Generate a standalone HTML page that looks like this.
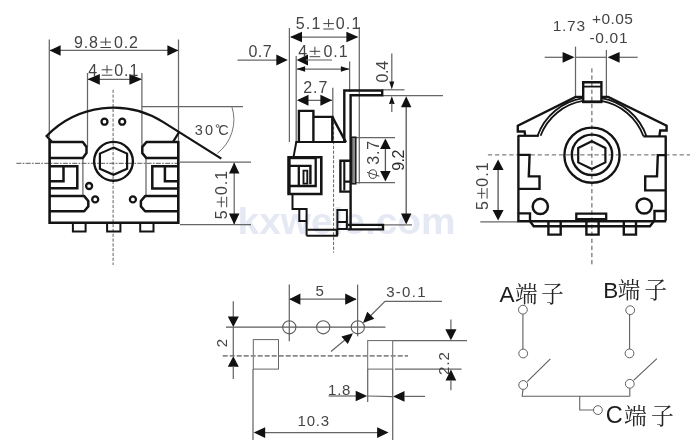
<!DOCTYPE html>
<html><head><meta charset="utf-8"><title>Dimension drawing</title>
<style>
html,body{margin:0;padding:0;background:#fff;}
body{width:700px;height:444px;overflow:hidden;}
svg{display:block;font-family:"Liberation Sans",sans-serif;}
</style></head><body>
<svg width="700" height="444" viewBox="0 0 700 444">
<rect width="700" height="444" fill="#ffffff"/>
<g opacity="0.999">
<text x="237.6" y="234.3" font-size="37" font-weight="bold" fill="#e5e9f3" textLength="218" lengthAdjust="spacingAndGlyphs">kxwele.com</text>
<line x1="49.3" y1="39.5" x2="49.3" y2="137" stroke="#666666" stroke-width="1.25" />
<line x1="178.5" y1="39.5" x2="178.5" y2="141" stroke="#666666" stroke-width="1.25" />
<line x1="87.5" y1="73" x2="87.5" y2="147" stroke="#666666" stroke-width="1.25" />
<line x1="141.9" y1="73" x2="141.9" y2="147" stroke="#666666" stroke-width="1.25" />
<line x1="82.9" y1="159" x2="82.9" y2="195" stroke="#666666" stroke-width="1.25" />
<line x1="146.0" y1="159" x2="146.0" y2="195" stroke="#666666" stroke-width="1.25" />
<line x1="141.8" y1="106.5" x2="243" y2="106.5" stroke="#666666" stroke-width="1.25" />
<line x1="180" y1="162.2" x2="251" y2="162.2" stroke="#666666" stroke-width="1.25" />
<line x1="180" y1="224.6" x2="251" y2="224.6" stroke="#666666" stroke-width="1.25" />
<line x1="234.2" y1="163" x2="234.2" y2="224" stroke="#666666" stroke-width="1.25" />
<polygon points="234.20,162.40 239.45,173.40 228.95,173.40" fill="#111"/>
<polygon points="234.20,224.40 228.95,213.40 239.45,213.40" fill="#111"/>
<line x1="50" y1="50.4" x2="178" y2="50.4" stroke="#666666" stroke-width="1.25" />
<polygon points="49.60,50.40 60.60,45.15 60.60,55.65" fill="#111"/>
<polygon points="178.40,50.40 167.40,55.65 167.40,45.15" fill="#111"/>
<line x1="88" y1="79.4" x2="141" y2="79.4" stroke="#666666" stroke-width="1.25" />
<polygon points="87.60,79.30 99.80,73.90 99.80,84.70" fill="#111"/>
<polygon points="142.00,79.30 129.40,84.70 129.40,73.90" fill="#111"/>
<line x1="113.1" y1="89.7" x2="113.1" y2="265" stroke="#505050" stroke-width="0.9" stroke-dasharray="3.2 1.6"/>
<line x1="16.4" y1="163.3" x2="180" y2="163.3" stroke="#484848" stroke-width="0.9" stroke-dasharray="5 1.3 1.7 1.3"/>
<path d="M231.8,106.5 A42.7 42.7 0 0 1 217.3,153.4" fill="none" stroke="#666666" stroke-width="0.9" />
<path d="M51.6,141.6 L46.6,136.0 A93 93 0 0 1 162.9,121.9 L221.3,158.6" fill="none" stroke="#141414" stroke-width="2.3" stroke-linejoin="miter" />
<path d="M178.8,132.6 L173.2,141.6" fill="none" stroke="#141414" stroke-width="2.2" stroke-linejoin="miter" />
<path d="M49.6,139.5 V222.8 H178.3 V141" fill="none" stroke="#141414" stroke-width="2.6" stroke-linejoin="miter" />
<path d="M49.6,142.1 H82.8 L86.5,146.9 V153.1 L82.8,158.1 H49.6" fill="none" stroke="#141414" stroke-width="2.5" stroke-linejoin="round" />
<path d="M178.3,142.1 H146.4 L142.3,146.9 V153.1 L146.4,158.1 H178.3" fill="none" stroke="#141414" stroke-width="2.5" stroke-linejoin="round" />
<path d="M49.6,196.1 H84.2 L88.3,201 V206.4 L84.2,211.2 H49.6" fill="none" stroke="#141414" stroke-width="2.5" stroke-linejoin="round" />
<path d="M178.3,196.1 H145.1 L140.9,201 V206.4 L145.1,211.2 H178.3" fill="none" stroke="#141414" stroke-width="2.5" stroke-linejoin="round" />
<path d="M49.6,166.2 H77.3 V188.2 H49.6" fill="none" stroke="#141414" stroke-width="2.5" stroke-linejoin="miter" />
<path d="M63.5,166.2 V181.3 H49.6" fill="none" stroke="#141414" stroke-width="2.5" stroke-linejoin="miter" />
<path d="M178.3,166.2 H152.3 V188.4 H178.3" fill="none" stroke="#141414" stroke-width="2.5" stroke-linejoin="miter" />
<path d="M164.9,166.2 V181.3 H178.3" fill="none" stroke="#141414" stroke-width="2.5" stroke-linejoin="miter" />
<circle cx="113.5" cy="161.3" r="19.4" fill="none" stroke="#141414" stroke-width="2.4"/>
<path d="M113.50,147.60 L127.10,153.60 L127.10,168.80 L113.50,174.80 L99.90,168.80 L99.90,153.60 Z" fill="none" stroke="#141414" stroke-width="2.2" stroke-linejoin="miter" />
<circle cx="104.5" cy="121.7" r="3.0" fill="none" stroke="#141414" stroke-width="2.3"/>
<circle cx="122.2" cy="121.7" r="3.0" fill="none" stroke="#141414" stroke-width="2.3"/>
<circle cx="89.1" cy="186.0" r="3.0" fill="none" stroke="#141414" stroke-width="2.3"/>
<circle cx="95.2" cy="199.4" r="3.0" fill="none" stroke="#141414" stroke-width="2.3"/>
<circle cx="132.9" cy="199.4" r="3.0" fill="none" stroke="#141414" stroke-width="2.3"/>
<path d="M72.9,222.8 V231.6 H85.6 V222.8" fill="none" stroke="#141414" stroke-width="2.0" stroke-linejoin="miter" />
<path d="M107.1,222.8 V231.6 H120.4 V222.8" fill="none" stroke="#141414" stroke-width="2.0" stroke-linejoin="miter" />
<path d="M140.2,222.8 V231.6 H153.5 V222.8" fill="none" stroke="#141414" stroke-width="2.0" stroke-linejoin="miter" />
<g transform="translate(74.0 47.9)"><text x="0" y="0" font-size="16" letter-spacing="0.8" fill="#444444">9.8</text><path d="M26.40,-5.8H37.00M31.70,-10.4V-2.2M26.40,-0.4H37.00" stroke="#444444" stroke-width="1" fill="none"/><text x="40.00" y="0" font-size="16" letter-spacing="0.8" fill="#444444">0.2</text></g>
<g transform="translate(88.3 75.6)"><text x="0" y="0" font-size="16" letter-spacing="1.0" fill="#444444">4</text><path d="M13.40,-5.8H24.00M18.70,-10.4V-2.2M13.40,-0.4H24.00" stroke="#444444" stroke-width="1" fill="none"/><text x="25.90" y="0" font-size="16" letter-spacing="1.0" fill="#444444">0.1</text></g>
<g transform="translate(227.1 219.3) rotate(-90)"><text x="0" y="0" font-size="16" letter-spacing="1.0" fill="#444444">5</text><path d="M12.00,-5.8H22.60M17.30,-10.4V-2.2M12.00,-0.4H22.60" stroke="#444444" stroke-width="1" fill="none"/><text x="24.20" y="0" font-size="16" letter-spacing="1.0" fill="#444444">0.1</text></g>
<text x="194.7" y="135.2" font-size="14.5" letter-spacing="0" fill="#444444" text-anchor="start" font-weight="normal" >3</text>
<text x="204.9" y="135.2" font-size="14.5" letter-spacing="0" fill="#444444" text-anchor="start" font-weight="normal" >0</text>
<circle cx="217.6" cy="126.0" r="1.4" fill="none" stroke="#444444" stroke-width="0.8"/>
<text x="218.2" y="135.2" font-size="14.5" letter-spacing="0" fill="#444444" text-anchor="start" font-weight="normal" >C</text>
<line x1="289.4" y1="28" x2="289.4" y2="142" stroke="#666666" stroke-width="1.25" />
<line x1="359.3" y1="27" x2="359.3" y2="183.5" stroke="#666666" stroke-width="1.25" />
<line x1="296.2" y1="56" x2="296.2" y2="142" stroke="#666666" stroke-width="1.25" />
<line x1="349.6" y1="61.5" x2="349.6" y2="92" stroke="#666666" stroke-width="1.25" />
<line x1="332.8" y1="87.7" x2="332.8" y2="117" stroke="#666666" stroke-width="1.25" />
<line x1="291" y1="37" x2="357" y2="37" stroke="#666666" stroke-width="1.25" />
<polygon points="290.00,37.00 302.00,31.75 302.00,42.25" fill="#111"/>
<polygon points="358.40,37.00 346.40,42.25 346.40,31.75" fill="#111"/>
<line x1="237.5" y1="60.0" x2="278" y2="60.0" stroke="#666666" stroke-width="1.25" />
<polygon points="287.80,60.00 276.30,65.50 276.30,54.50" fill="#111"/>
<polygon points="296.60,60.00 308.00,54.60 308.00,65.40" fill="#111"/>
<line x1="306" y1="60.0" x2="332" y2="60.0" stroke="#7a7a7a" stroke-width="1.2" />
<line x1="297" y1="69" x2="349" y2="69" stroke="#666666" stroke-width="1.25" />
<polygon points="296.60,69.00 305.10,66.20 305.10,71.80" fill="#111"/>
<polygon points="349.40,69.00 340.90,71.80 340.90,66.20" fill="#111"/>
<line x1="298" y1="100.3" x2="332" y2="100.3" stroke="#666666" stroke-width="1.25" />
<polygon points="296.90,100.30 308.50,94.80 308.50,105.80" fill="#111"/>
<polygon points="332.00,100.30 320.40,105.80 320.40,94.80" fill="#111"/>
<line x1="391.8" y1="53.5" x2="391.8" y2="84" stroke="#666666" stroke-width="1.25" />
<polygon points="391.80,89.60 389.30,81.60 394.30,81.60" fill="#111"/>
<polygon points="391.80,95.90 394.60,104.10 389.00,104.10" fill="#111"/>
<line x1="391.8" y1="103" x2="391.8" y2="112" stroke="#666666" stroke-width="1.25" />
<line x1="382" y1="89.8" x2="404.5" y2="89.8" stroke="#666666" stroke-width="1.25" />
<line x1="382" y1="95.5" x2="443" y2="95.5" stroke="#666666" stroke-width="1.25" />
<line x1="406.2" y1="100" x2="406.2" y2="220" stroke="#555" stroke-width="1.3" />
<polygon points="406.20,96.20 411.40,107.20 401.00,107.20" fill="#111"/>
<polygon points="406.20,224.60 401.00,213.60 411.40,213.60" fill="#111"/>
<line x1="383" y1="224.9" x2="412" y2="224.9" stroke="#666666" stroke-width="1.25" />
<line x1="356" y1="137.5" x2="395" y2="137.5" stroke="#666666" stroke-width="1.25" />
<line x1="356" y1="182.6" x2="395" y2="182.6" stroke="#666666" stroke-width="1.25" />
<line x1="385.4" y1="145" x2="385.4" y2="175" stroke="#555" stroke-width="1.3" />
<polygon points="385.40,138.60 390.70,149.10 380.10,149.10" fill="#111"/>
<polygon points="385.40,181.60 380.10,171.10 390.70,171.10" fill="#111"/>
<line x1="333.6" y1="117" x2="333.6" y2="252.6" stroke="#505050" stroke-width="0.9" stroke-dasharray="3.2 1.6"/>
<path d="M344.3,142.6 V90.5 H382.2 V95.3 H350.6 V229.5" fill="none" stroke="#141414" stroke-width="2.4" stroke-linejoin="miter" />
<path d="M347.8,224.9 H383 V229.4 H347.8" fill="none" stroke="#141414" stroke-width="2.4" stroke-linejoin="miter" />
<rect x="351.6" y="137.2" width="4.2" height="46.6" fill="#8a8a8a" stroke="#1a1a1a" stroke-width="1.5"/>
<path d="M350.5,160.8 H340.4 V191.6 H350.5" fill="none" stroke="#141414" stroke-width="2.4" stroke-linejoin="miter" />
<path d="M344.3,162 V190.5 M344.3,181.6 H350.5" fill="none" stroke="#141414" stroke-width="2.1" stroke-linejoin="miter" />
<path d="M298.9,142 V110.9 H313.4 V142 M313.4,116.9 H332.3 V142" fill="none" stroke="#141414" stroke-width="2.4" stroke-linejoin="miter" />
<path d="M332.3,116.9 L346,142.4" fill="none" stroke="#141414" stroke-width="2.4" stroke-linejoin="miter" />
<path d="M295.4,142 H346" fill="none" stroke="#141414" stroke-width="2.2" stroke-linejoin="miter" />
<path d="M296.3,142 L293.6,156.6" fill="none" stroke="#141414" stroke-width="2.0" stroke-linejoin="miter" />
<path d="M288.6,157.3 H321.3 V194 H288.6 Z" fill="none" stroke="#141414" stroke-width="2.6" stroke-linejoin="miter" />
<path d="M288.2,157.6 H316" fill="none" stroke="#141414" stroke-width="3.2" stroke-linejoin="miter" />
<path d="M289.2,157 V194" fill="none" stroke="#141414" stroke-width="2.9" stroke-linejoin="miter" />
<path d="M315.7,158 V186 H288.6" fill="none" stroke="#141414" stroke-width="2.3" stroke-linejoin="miter" />
<path d="M289,165.9 H310.4 V184.2" fill="none" stroke="#141414" stroke-width="2.4" stroke-linejoin="miter" />
<path d="M298.8,165.9 V186" fill="none" stroke="#141414" stroke-width="2.3" stroke-linejoin="miter" />
<path d="M303.5,170.6 H307.3 V183.6 H303.5 Z" fill="none" stroke="#141414" stroke-width="1.9" stroke-linejoin="miter" />
<path d="M292.5,194.3 V209.1 H306.6 V235.7" fill="none" stroke="#141414" stroke-width="2.0" stroke-linejoin="miter" />
<path d="M299.3,209.1 V221.1 H306.6" fill="none" stroke="#141414" stroke-width="2.0" stroke-linejoin="miter" />
<path d="M307.4,229.7 H336.8 V235.7 H306.6" fill="none" stroke="#141414" stroke-width="2.0" stroke-linejoin="miter" />
<path d="M337.4,235.7 V210 H346.9 V229 H337.4 M337.4,222 H346.9" fill="none" stroke="#141414" stroke-width="2.0" stroke-linejoin="miter" />
<g transform="translate(295.7 29.4)"><text x="0" y="0" font-size="16" letter-spacing="1.2" fill="#444444">5.1</text><path d="M27.60,-5.8H38.20M32.90,-10.4V-2.2M27.60,-0.4H38.20" stroke="#444444" stroke-width="1" fill="none"/><text x="40.00" y="0" font-size="16" letter-spacing="1.2" fill="#444444">0.1</text></g>
<g transform="translate(298.2 57.1)"><text x="0" y="0" font-size="16" letter-spacing="1.0" fill="#444444">4</text><path d="M11.40,-5.8H22.00M16.70,-10.4V-2.2M11.40,-0.4H22.00" stroke="#444444" stroke-width="1" fill="none"/><text x="25.20" y="0" font-size="16" letter-spacing="1.0" fill="#444444">0.1</text></g>
<text x="248.4" y="57.1" font-size="16" letter-spacing="0.5" fill="#444444" text-anchor="start" font-weight="normal" >0.7</text>
<text x="303.2" y="92.5" font-size="16" letter-spacing="1.0" fill="#444444" text-anchor="start" font-weight="normal" >2.7</text>
<text x="387.6" y="82.4" font-size="16" letter-spacing="-0.4" fill="#444444" text-anchor="start" font-weight="normal" transform="rotate(-90 387.6 82.4)" >0.4</text>
<text x="404.2" y="170.7" font-size="16" letter-spacing="-0.6" fill="#2a2a2a" text-anchor="start" font-weight="normal" transform="rotate(-90 404.2 170.7)" >9.2</text>
<g transform="translate(379,178.2) rotate(-90)"><ellipse cx="4.1" cy="-6.2" rx="4.3" ry="3.8" fill="none" stroke="#444444" stroke-width="1"/><line x1="2.0" y1="0.4" x2="5.9" y2="-12" stroke="#444444" stroke-width="1"/><text x="13.4" y="0" font-size="16" letter-spacing="0.8" fill="#444444">3.7</text></g>
<line x1="575.5" y1="46.6" x2="575.5" y2="97" stroke="#666666" stroke-width="1.25" />
<line x1="606.4" y1="50" x2="606.4" y2="97" stroke="#666666" stroke-width="1.25" />
<line x1="544.7" y1="57.3" x2="563" y2="57.3" stroke="#666666" stroke-width="1.25" />
<line x1="575.5" y1="57.3" x2="606.4" y2="57.3" stroke="#666666" stroke-width="1.25" />
<line x1="619" y1="57.3" x2="637.7" y2="57.3" stroke="#666666" stroke-width="1.25" />
<polygon points="574.60,57.30 562.60,62.65 562.60,51.95" fill="#111"/>
<polygon points="607.60,57.30 619.60,51.95 619.60,62.65" fill="#111"/>
<line x1="591.9" y1="68.3" x2="591.9" y2="265" stroke="#505050" stroke-width="1.0" stroke-dasharray="4.3 2.8"/>
<line x1="487.9" y1="154.9" x2="690" y2="154.9" stroke="#505050" stroke-width="0.9" stroke-dasharray="4.3 2.8"/>
<line x1="480.3" y1="221.8" x2="518" y2="221.8" stroke="#666666" stroke-width="1.25" />
<line x1="498.1" y1="166" x2="498.1" y2="212" stroke="#555" stroke-width="1.3" />
<polygon points="498.10,159.40 503.60,169.90 492.60,169.90" fill="#111"/>
<polygon points="498.10,220.40 492.60,209.90 503.60,209.90" fill="#111"/>
<path d="M583.2,102 V82.2 H601.4 V102" fill="none" stroke="#141414" stroke-width="2.4" stroke-linejoin="miter" />
<path d="M583.2,86.6 H601.4" fill="none" stroke="#141414" stroke-width="1.8" stroke-linejoin="miter" />
<path d="M582,101.8 H602.6" fill="none" stroke="#141414" stroke-width="2.8" stroke-linejoin="miter" />
<path d="M583.2,96.9 H575.6 L517.8,125.7 V131.5 H524.6 L525.2,135.8" fill="none" stroke="#141414" stroke-width="2.4" stroke-linejoin="miter" />
<path d="M601.4,96.9 H608.2 L666.6,125.7 V130.5 H660.2 L659.4,136.2" fill="none" stroke="#141414" stroke-width="2.4" stroke-linejoin="miter" />
<path d="M540.54,135.80 A55.0 55.0 0 0 1 583.00,100.94" fill="none" stroke="#141414" stroke-width="1.8" stroke-linejoin="miter" />
<path d="M643.46,136.30 A55.0 55.0 0 0 0 601.40,100.94" fill="none" stroke="#141414" stroke-width="1.8" stroke-linejoin="miter" />
<path d="M537.55,135.80 A57.8 57.8 0 0 1 583.00,98.10" fill="none" stroke="#141414" stroke-width="1.8" stroke-linejoin="miter" />
<path d="M646.45,136.30 A57.8 57.8 0 0 0 601.40,98.10" fill="none" stroke="#141414" stroke-width="1.8" stroke-linejoin="miter" />
<path d="M517.6,135.8 H538.8" fill="none" stroke="#141414" stroke-width="2.2" stroke-linejoin="miter" />
<path d="M643.4,136.4 H666.6" fill="none" stroke="#141414" stroke-width="2.2" stroke-linejoin="miter" />
<path d="M518.4,135.8 V221.4" fill="none" stroke="#141414" stroke-width="2.4" stroke-linejoin="miter" />
<path d="M665.7,136.4 V220.6" fill="none" stroke="#141414" stroke-width="2.4" stroke-linejoin="miter" />
<path d="M518.4,154.9 H529.6 L528.8,176.4 H539.5 V188.9 H518.4" fill="none" stroke="#141414" stroke-width="2.4" stroke-linejoin="miter" />
<path d="M665.7,155.1 H657.8 L657,176.4 H645.2 V190.4 H665.7" fill="none" stroke="#141414" stroke-width="2.4" stroke-linejoin="miter" />
<circle cx="592" cy="155.2" r="27.6" fill="none" stroke="#141414" stroke-width="2.4"/>
<circle cx="592" cy="154.8" r="20.2" fill="none" stroke="#141414" stroke-width="2.4"/>
<path d="M591.80,141.30 L605.40,148.00 L605.40,162.40 L591.80,169.10 L578.20,162.40 L578.20,148.00 Z" fill="none" stroke="#141414" stroke-width="2.2" stroke-linejoin="miter" />
<circle cx="540.3" cy="206.4" r="7.6" fill="none" stroke="#141414" stroke-width="2.5"/>
<circle cx="644.2" cy="206.0" r="7.6" fill="none" stroke="#141414" stroke-width="2.5"/>
<path d="M517.8,213.4 H530 V221.2" fill="none" stroke="#141414" stroke-width="2.4" stroke-linejoin="miter" />
<path d="M665.7,211 H654.5 V220.6" fill="none" stroke="#141414" stroke-width="2.4" stroke-linejoin="miter" />
<path d="M517.4,221.2 H666.2" fill="none" stroke="#141414" stroke-width="2.6" stroke-linejoin="miter" />
<path d="M530,221.2 L533.7,226.2 H650 L654.2,220.8" fill="none" stroke="#141414" stroke-width="2.4" stroke-linejoin="miter" />
<path d="M576.3,221 V213.6 H606.2 V221 M576.3,219.2 H606.2" fill="none" stroke="#141414" stroke-width="2.3" stroke-linejoin="miter" />
<path d="M548.4,221.2 V234.6 H560.7 V221.2" fill="none" stroke="#141414" stroke-width="2.4" stroke-linejoin="miter" />
<path d="M586.4,221.2 V234.6 H598.6 V221.2" fill="none" stroke="#141414" stroke-width="2.4" stroke-linejoin="miter" />
<path d="M623.8,221.2 V234.6 H636.0 V221.2" fill="none" stroke="#141414" stroke-width="2.4" stroke-linejoin="miter" />
<g transform="translate(487.5 210.1) rotate(-90)"><text x="0" y="0" font-size="16" letter-spacing="1.0" fill="#444444">5</text><path d="M11.50,-5.8H22.10M16.80,-10.4V-2.2M11.50,-0.4H22.10" stroke="#444444" stroke-width="1" fill="none"/><text x="23.40" y="0" font-size="16" letter-spacing="1.0" fill="#444444">0.1</text></g>
<text x="552.8" y="31.1" font-size="15.5" letter-spacing="0.7" fill="#444444" text-anchor="start" font-weight="normal" >1.73</text>
<text x="592.0" y="23.8" font-size="15.5" letter-spacing="0.4" fill="#444444" text-anchor="start" font-weight="normal" >+0.05</text>
<text x="589.4" y="42.5" font-size="15.5" letter-spacing="0.7" fill="#444444" text-anchor="start" font-weight="normal" >-0.01</text>
<line x1="226" y1="327.2" x2="385.5" y2="327.2" stroke="#5a5a5a" stroke-width="1.3" />
<line x1="289.3" y1="284.6" x2="289.3" y2="341.3" stroke="#666666" stroke-width="1.25" />
<line x1="357.6" y1="284.6" x2="357.6" y2="336.3" stroke="#666666" stroke-width="1.25" />
<line x1="290" y1="299.2" x2="356" y2="299.2" stroke="#666666" stroke-width="1.25" />
<polygon points="289.20,299.20 300.40,293.60 300.40,304.80" fill="#111"/>
<polygon points="356.60,299.20 345.20,304.80 345.20,293.60" fill="#111"/>
<circle cx="289.3" cy="327.3" r="6.6" fill="none" stroke="#5a5a5a" stroke-width="1.1"/>
<circle cx="323.2" cy="327.3" r="6.6" fill="none" stroke="#5a5a5a" stroke-width="1.1"/>
<circle cx="357.8" cy="327.3" r="6.6" fill="none" stroke="#5a5a5a" stroke-width="1.1"/>
<rect x="253.3" y="339.6" width="25.2" height="29.5" fill="none" stroke="#666666" stroke-width="1"/>
<rect x="367.7" y="340.6" width="25" height="28.5" fill="none" stroke="#666666" stroke-width="1"/>
<line x1="253.0" y1="369" x2="253.0" y2="440" stroke="#666666" stroke-width="1.25" />
<line x1="367.7" y1="369" x2="367.7" y2="402" stroke="#666666" stroke-width="1.25" />
<line x1="392.7" y1="369" x2="392.7" y2="440" stroke="#666666" stroke-width="1.25" />
<line x1="222.7" y1="355.8" x2="408" y2="355.8" stroke="#888888" stroke-width="1.7" stroke-dasharray="5 2"/>
<line x1="233.3" y1="301.3" x2="233.3" y2="318" stroke="#666666" stroke-width="1.25" />
<polygon points="233.30,327.00 227.80,316.50 238.80,316.50" fill="#111"/>
<line x1="233.3" y1="327" x2="233.3" y2="356" stroke="#666666" stroke-width="1.25" />
<polygon points="233.30,356.20 238.80,366.70 227.80,366.70" fill="#111"/>
<line x1="233.3" y1="366" x2="233.3" y2="379" stroke="#666666" stroke-width="1.25" />
<path d="M442,301.3 H385 L370,316.2" fill="none" stroke="#666666" stroke-width="1.25" />
<polygon points="363.00,323.00 367.24,311.69 374.31,318.76" fill="#111"/>
<line x1="331" y1="351.6" x2="346" y2="339.0" stroke="#666666" stroke-width="1.25" />
<polygon points="353.00,333.20 347.79,344.10 341.36,336.44" fill="#111"/>
<line x1="393" y1="340.6" x2="467" y2="340.6" stroke="#666666" stroke-width="1.25" />
<line x1="395" y1="369.2" x2="461.5" y2="369.2" stroke="#666666" stroke-width="1.25" />
<line x1="450.9" y1="319.6" x2="450.9" y2="330" stroke="#666666" stroke-width="1.25" />
<polygon points="450.90,340.30 445.30,329.30 456.50,329.30" fill="#111"/>
<polygon points="450.90,369.50 456.25,380.50 445.55,380.50" fill="#111"/>
<line x1="450.9" y1="380" x2="450.9" y2="390.3" stroke="#666666" stroke-width="1.25" />
<line x1="328.6" y1="396" x2="357" y2="396" stroke="#666666" stroke-width="1.25" />
<polygon points="367.20,396.00 355.70,401.35 355.70,390.65" fill="#111"/>
<line x1="367.7" y1="396" x2="392.7" y2="396.6" stroke="#666666" stroke-width="1.25" />
<polygon points="393.00,396.40 404.50,391.05 404.50,401.75" fill="#111"/>
<line x1="404" y1="396.4" x2="425" y2="396.4" stroke="#666666" stroke-width="1.25" />
<line x1="264" y1="432.6" x2="378" y2="432.6" stroke="#666666" stroke-width="1.25" />
<polygon points="253.70,432.60 265.20,427.20 265.20,438.00" fill="#111"/>
<polygon points="388.60,432.60 377.10,438.00 377.10,427.20" fill="#111"/>
<text x="315.6" y="295.6" font-size="15" letter-spacing="0" fill="#444444" text-anchor="start" font-weight="normal" >5</text>
<text x="386.2" y="296.7" font-size="15" letter-spacing="1.3" fill="#444444" text-anchor="start" font-weight="normal" >3-0.1</text>
<text x="227.4" y="347.2" font-size="15" letter-spacing="0" fill="#444444" text-anchor="start" font-weight="normal" transform="rotate(-90 227.4 347.2)" >2</text>
<text x="449.2" y="374.9" font-size="15" letter-spacing="0.95" fill="#444444" text-anchor="start" font-weight="normal" transform="rotate(-90 449.2 374.9)" >2.2</text>
<text x="328.1" y="394.9" font-size="15" letter-spacing="0.7" fill="#444444" text-anchor="start" font-weight="normal" >1.8</text>
<text x="297.5" y="426.4" font-size="15" letter-spacing="0.8" fill="#444444" text-anchor="start" font-weight="normal" >10.3</text>
<circle cx="522.9" cy="309.7" r="4.4" fill="none" stroke="#5e5e5e" stroke-width="1.0"/>
<line x1="522.9" y1="314.2" x2="522.9" y2="349" stroke="#5e5e5e" stroke-width="1.1" />
<circle cx="523.2" cy="353.5" r="4.4" fill="none" stroke="#5e5e5e" stroke-width="1.0"/>
<circle cx="523.2" cy="385.0" r="4.4" fill="none" stroke="#5e5e5e" stroke-width="1.0"/>
<line x1="527.2" y1="381.6" x2="550.4" y2="358.9" stroke="#5e5e5e" stroke-width="1.1" />
<line x1="523.0" y1="389.5" x2="522.1" y2="396.5" stroke="#5e5e5e" stroke-width="1.1" />
<circle cx="630.2" cy="310.2" r="4.4" fill="none" stroke="#5e5e5e" stroke-width="1.0"/>
<line x1="629.6" y1="314.7" x2="629.6" y2="349" stroke="#5e5e5e" stroke-width="1.1" />
<circle cx="629.5" cy="353.4" r="4.4" fill="none" stroke="#5e5e5e" stroke-width="1.0"/>
<circle cx="629.8" cy="383.8" r="4.4" fill="none" stroke="#5e5e5e" stroke-width="1.0"/>
<line x1="633.6" y1="380.4" x2="656.9" y2="358.6" stroke="#5e5e5e" stroke-width="1.1" />
<line x1="629.8" y1="388.3" x2="629.8" y2="396.2" stroke="#5e5e5e" stroke-width="1.1" />
<line x1="522.1" y1="396.3" x2="629.8" y2="396.3" stroke="#5e5e5e" stroke-width="1.1" />
<path d="M579.7,396.3 V410 H593.4" fill="none" stroke="#666666" stroke-width="1.1" />
<circle cx="597.9" cy="410.1" r="4.4" fill="none" stroke="#5e5e5e" stroke-width="1.0"/>
<text x="499.6" y="302.0" font-size="22.5" letter-spacing="0" fill="#1c1c1c" text-anchor="start" font-weight="normal" >A</text>
<text x="515.0" y="302.4" font-size="22.5" fill="#222" text-anchor="start" style='font-family:"Liberation Serif","Noto Serif CJK SC",serif'>端</text>
<text x="541.2" y="302.4" font-size="22.5" fill="#222" text-anchor="start" style='font-family:"Liberation Serif","Noto Serif CJK SC",serif'>子</text>
<text x="603.2" y="297.9" font-size="22.5" letter-spacing="0" fill="#1c1c1c" text-anchor="start" font-weight="normal" >B</text>
<text x="617.8" y="298.3" font-size="22.5" fill="#222" text-anchor="start" style='font-family:"Liberation Serif","Noto Serif CJK SC",serif'>端</text>
<text x="644.6" y="298.3" font-size="22.5" fill="#222" text-anchor="start" style='font-family:"Liberation Serif","Noto Serif CJK SC",serif'>子</text>
<text x="605.8" y="423.1" font-size="23.5" letter-spacing="0" fill="#1c1c1c" text-anchor="start" font-weight="normal" >C</text>
<text x="623.9" y="423.5" font-size="22.8" fill="#222" text-anchor="start" style='font-family:"Liberation Serif","Noto Serif CJK SC",serif'>端</text>
<text x="650.9" y="423.5" font-size="22.8" fill="#222" text-anchor="start" style='font-family:"Liberation Serif","Noto Serif CJK SC",serif'>子</text>
</g>
</svg>
</body></html>
